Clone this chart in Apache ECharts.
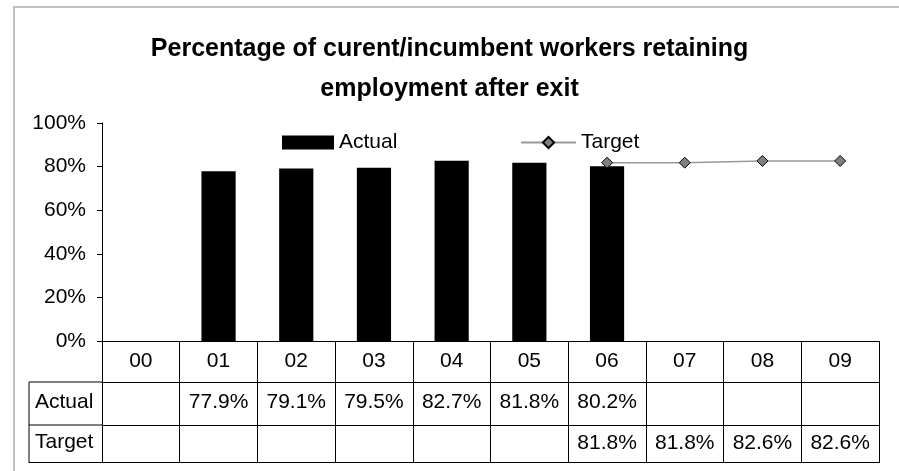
<!DOCTYPE html>
<html>
<head>
<meta charset="utf-8">
<script src="https://cdn.jsdelivr.net/npm/echarts@6/dist/echarts.min.js"></script>
<style>
  html, body { margin: 0; padding: 0; background: #fff; overflow: hidden; }
  #chart { width: 899px; height: 471px; }
</style>
</head>
<body>
<div id="chart"></div>
<script>
// data
const years = ['00', '01', '02', '03', '04', '05', '06', '07', '08', '09'];
const actual = [null, 77.9, 79.1, 79.5, 82.7, 81.8, 80.2, null, null, null];
const target = [null, null, null, null, null, null, 81.8, 81.8, 82.6, 82.6];
const yTicks = [0, 20, 40, 60, 80, 100];

const FONT = 'Liberation Sans, Arial, sans-serif';
const pct = v => (v == null ? '' : v.toFixed(1) + '%');

// layout of plot + data table
const gridLeft = 102, gridRight = 20, gridTop = 123, gridBottom = 130;
const rowH = [41, 43, 38];          // category row, Actual row, Target row
const labelColLeft = 29;
const axisY = 471 - gridBottom;      // y of 0% line

const row1Y = axisY + rowH[0];
const row2Y = row1Y + rowH[1];
const row3Y = row2Y + rowH[2];

const chart = echarts.init(document.getElementById('chart'));

const tableAxis = (offset, tickLen, labels, margin) => ({
  type: 'category',
  data: years,
  position: 'bottom',
  offset: offset,
  axisLine: { show: true, onZero: false, lineStyle: { color: '#000', width: 1 } },
  axisTick: { show: true, interval: 0, length: tickLen, lineStyle: { color: '#000' } },
  axisLabel: {
    show: true,
    interval: 0,
    margin: margin,
    fontSize: 21,
    fontFamily: FONT,
    color: '#000',
    formatter: (v, i) => labels[i]
  },
  splitLine: { show: false }
});

const hLine = (x1, x2, y) => ({
  type: 'line', z: 100, silent: true,
  shape: { x1: x1, y1: y, x2: x2, y2: y },
  style: { stroke: '#000', lineWidth: 1 }
});

chart.setOption({
  animation: false,
  textStyle: { fontFamily: FONT },
  title: {
    text: 'Percentage of curent/incumbent workers retaining\nemployment after exit',
    left: 'center',
    top: 24,
    textStyle: { fontSize: 25, fontWeight: 'bold', color: '#000', lineHeight: 40, fontFamily: FONT }
  },
  legend: [
    {
      data: [{ name: 'Actual', icon: 'rect' }],
      left: 277, top: 127,
      itemWidth: 52, itemHeight: 14,
      textStyle: { fontSize: 21, color: '#000', fontFamily: FONT }
    },
    {
      data: ['Target'],
      left: 515, top: 127,
      itemWidth: 55, itemHeight: 14,
      textStyle: { fontSize: 21, color: '#000', fontFamily: FONT }
    }
  ],
  grid: { left: gridLeft, right: gridRight, top: gridTop, bottom: gridBottom },
  xAxis: [
    tableAxis(0, rowH[0], years, 10),
    tableAxis(rowH[0], rowH[1], actual.map(pct), 10),
    tableAxis(rowH[0] + rowH[1], rowH[2], target.map(pct), 8)
  ],
  yAxis: {
    type: 'value',
    min: yTicks[0],
    max: yTicks[yTicks.length - 1],
    interval: 20,
    axisLine: { show: true, lineStyle: { color: '#000' } },
    axisTick: { show: true, length: 5, lineStyle: { color: '#000' } },
    axisLabel: { fontSize: 21, color: '#000', margin: 16, fontFamily: FONT, formatter: '{value}%' },
    splitLine: { show: false }
  },
  series: [
    {
      name: 'Actual',
      type: 'bar',
      data: actual,
      barWidth: '44%',
      itemStyle: { color: '#000' }
    },
    {
      name: 'Target',
      type: 'line',
      data: target,
      symbol: 'diamond',
      symbolSize: 11,
      showAllSymbol: true,
      lineStyle: { color: '#999', width: 1.5 },
      itemStyle: { color: '#808080', borderColor: '#000', borderWidth: 1 }
    }
  ],
  graphic: [
    // outer chart-area border
    { type: 'rect', silent: true, shape: { x: 14, y: 7, width: 1000, height: 600 },
      style: { fill: 'none', stroke: '#c0c0c0', lineWidth: 2 } },
    // row-label column and bottom edge of the data table
    hLine(labelColLeft, gridLeft, row1Y),
    hLine(labelColLeft, gridLeft, row2Y),
    hLine(labelColLeft, 899 - gridRight, row3Y - 0.5),
    { type: 'line', z: 100, silent: true,
      shape: { x1: labelColLeft, y1: row1Y, x2: labelColLeft, y2: row3Y },
      style: { stroke: '#000', lineWidth: 1 } },
    { type: 'text', x: labelColLeft + 6, y: (row1Y + row2Y) / 2 - 1,
      style: { text: 'Actual', fontSize: 21, fontFamily: FONT, fill: '#000', verticalAlign: 'middle' } },
    { type: 'text', x: labelColLeft + 6, y: (row2Y + row3Y) / 2 - 2,
      style: { text: 'Target', fontSize: 21, fontFamily: FONT, fill: '#000', verticalAlign: 'middle' } }
  ]
});
</script>
</body>
</html>
